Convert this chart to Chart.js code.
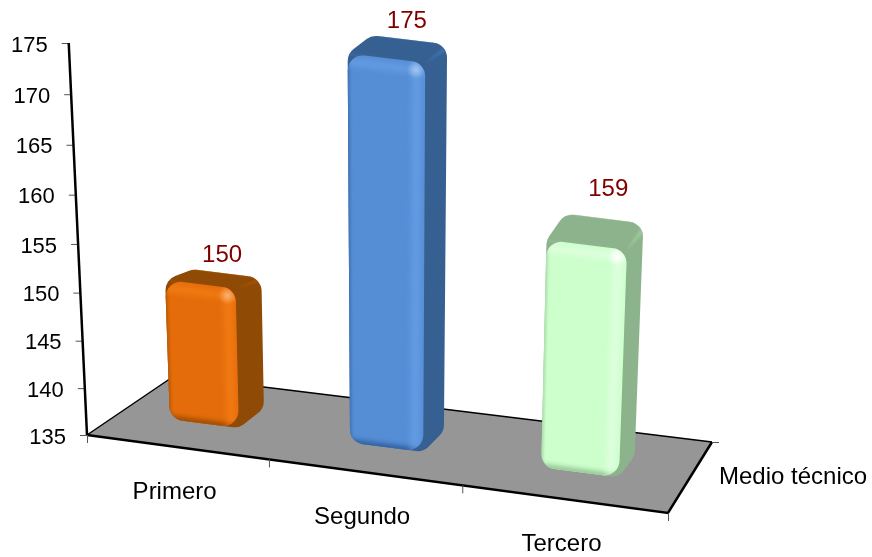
<!DOCTYPE html>
<html lang="es">
<head>
<meta charset="UTF-8">
<title>Medio técnico</title>
<style>
	html, body { margin: 0; padding: 0; background: #fff; }
	canvas { display: block; }
</style>
</head>
<body>
<canvas id="chart" width="872" height="557"></canvas>
<script src="https://cdn.jsdelivr.net/npm/chart.js@4/dist/chart.umd.js"></script>
<script>
const categories = ["Primero", "Segundo", "Tercero"];
const seriesName = "Medio técnico";
const values = [150, 175, 159];
const yMin = 135, yMax = 175, yStep = 5;

const frontColors = ["#E56C0A", "#558ED5", "#CCFFCC"];
const sideColors = ["#8F4A05", "#376092", "#8DB38D"];
const topColors = ["#A85A08", "#3F72B0", "#9CC59C"];
const lightColors = ["#FF8A1E", "#73ABF2", "#F2FFF2"];
const darkColors = ["#9A4A04", "#2F5F9E", "#93C393"];

// floor corners: front left, front right, back right, back left
const floor = [[87, 435], [668, 513], [712, 442], [174, 376]];
const FONT = '"Liberation Sans", Arial, sans-serif';
const BAR_V0 = 0.36, BAR_V1 = 0.68, BAR_SHIFT = -0.006;
const labelNudge = [[2.5, -19], [3, -26], [7, -44]];

const homography = (() => {
	const [p0, p1, p2, p3] = floor;
	const dx1 = p1[0] - p2[0], dx2 = p3[0] - p2[0], sx = p0[0] - p1[0] + p2[0] - p3[0];
	const dy1 = p1[1] - p2[1], dy2 = p3[1] - p2[1], sy = p0[1] - p1[1] + p2[1] - p3[1];
	const det = dx1 * dy2 - dx2 * dy1;
	const g = (sx * dy2 - dx2 * sy) / det, h = (dx1 * sy - sx * dy1) / det;
	const a = p1[0] - p0[0] + g * p1[0], b = p3[0] - p0[0] + h * p3[0];
	const d = p1[1] - p0[1] + g * p1[1], e = p3[1] - p0[1] + h * p3[1];
	return (u, v) => {
		const w = g * u + h * v + 1;
		return [(a * u + b * v + p0[0]) / w, (d * u + e * v + p0[1]) / w];
	};
})();

// pixel height above the floor for a value pixel of the y scale
function lift(scale, pixel) {
	const full = scale.bottom - scale.top;
	const s = (scale.bottom - pixel) / full;
	return full * s / (1.052 - 0.052 * s);
}

// point on the floor raised by a height, verticals lean towards a far vanishing point
function raise(p, height) {
	return [p[0] + (p[0] - 390) / 6500 * height, p[1] - height];
}

function roundedPath(ctx, pts, r) {
	const n = pts.length;
	const mid = (a, b) => [(a[0] + b[0]) / 2, (a[1] + b[1]) / 2];
	const start = mid(pts[n - 1], pts[0]);
	ctx.beginPath();
	ctx.moveTo(start[0], start[1]);
	for (let i = 0; i < n; i++) {
		const a = pts[i], b = pts[(i + 1) % n];
		ctx.arcTo(a[0], a[1], (a[0] + b[0]) / 2, (a[1] + b[1]) / 2, r);
	}
	ctx.closePath();
}

function softLine(ctx, pts, color, width, blur, alpha) {
	ctx.save();
	ctx.filter = "blur(" + blur + "px)";
	ctx.globalAlpha = alpha;
	ctx.strokeStyle = color;
	ctx.lineWidth = width;
	ctx.lineCap = "round";
	ctx.beginPath();
	pts.forEach((p, i) => i ? ctx.lineTo(p[0], p[1]) : ctx.moveTo(p[0], p[1]));
	ctx.stroke();
	ctx.restore();
}

function lerp(a, b, t) {
	return [a[0] + (b[0] - a[0]) * t, a[1] + (b[1] - a[1]) * t];
}

function drawBar(ctx, i, el, xs, ys) {
	const u0 = (el.x - el.width / 2 - xs.left) / xs.width + BAR_SHIFT;
	const u1 = (el.x + el.width / 2 - xs.left) / xs.width + BAR_SHIFT;
	const h = lift(ys, el.y) - 3;
	// the top face flattens towards eye level, less so on the right of the view
	const hBack = h + 8 - 20 * (1 - (u0 + u1) / 2);
	const fbl = homography(u0, BAR_V0), fbr = homography(u1, BAR_V0);
	const bbr = homography(u1, BAR_V1), bbl = homography(u0, BAR_V1);
	const tfl = raise(fbl, h), tfr = raise(fbr, h), tbr = raise(bbr, hBack), tbl = raise(bbl, hBack);

	// whole silhouette, side colour
	const outline = [fbl, fbr, bbr, tbr, tbl, tfl];
	roundedPath(ctx, outline, 15);
	ctx.fillStyle = sideColors[i];
	ctx.fill();

	// top face, clipped by the silhouette and fading into the side
	ctx.save();
	roundedPath(ctx, outline, 15);
	ctx.clip();
	ctx.filter = "blur(1px)";
	ctx.beginPath();
	[tfl, tfr, tbr, tbl].forEach((p, k) => k ? ctx.lineTo(p[0], p[1]) : ctx.moveTo(p[0], p[1]));
	ctx.lineTo(tbl[0] - 10, tbl[1] - 10);
	ctx.lineTo(tbr[0] + 10, tbr[1] - 10);
	ctx.lineTo(tbr[0] + 10, tbr[1]);
	ctx.lineTo(tfr[0], tfr[1]);
	ctx.lineTo(tfl[0] - 10, tfl[1]);
	ctx.closePath();
	ctx.fillStyle = topColors[i];
	ctx.fill();
	ctx.restore();

	// front face with soft bevels
	ctx.save();
	roundedPath(ctx, [fbl, fbr, tfr, tfl], 15);
	ctx.clip();
	ctx.fillStyle = frontColors[i];
	ctx.fillRect(0, 0, 872, 557);
	softLine(ctx, [fbl, tfl], darkColors[i], 3, 1.5, 0.7);
	softLine(ctx, [fbl, fbr], darkColors[i], 7, 2.5, 1);
	softLine(ctx, [lerp(tfl, fbl, 8 / h), lerp(tfr, fbr, 8 / h)], lightColors[i], 7, 3, 0.55);
	softLine(ctx, [lerp(tfr, tfl, 0.11), lerp(fbr, fbl, 0.11)], lightColors[i], 9, 3, 0.5);
	const spot = lerp(lerp(tfr, tfl, 0.12), lerp(fbr, fbl, 0.12), 8 / h);
	const glow = ctx.createRadialGradient(spot[0], spot[1], 0, spot[0], spot[1], 9);
	glow.addColorStop(0, i === 2 ? "#FFFFFF" : "rgba(255,255,255,0.4)");
	glow.addColorStop(1, "rgba(255,255,255,0)");
	ctx.fillStyle = glow;
	ctx.fillRect(spot[0] - 10, spot[1] - 10, 20, 20);
	ctx.restore();

	return raise(homography((u0 + u1) / 2, (BAR_V0 + BAR_V1) / 2), h);
}

const perspectiveBars = {
	id: "perspectiveBars",
	beforeDatasetsDraw(chart) {
		const { ctx, scales: { x: xs, y: ys } } = chart;
		ctx.save();

		// floor
		ctx.beginPath();
		floor.forEach((p, i) => i ? ctx.lineTo(p[0], p[1]) : ctx.moveTo(p[0], p[1]));
		ctx.closePath();
		ctx.fillStyle = "#969696";
		ctx.fill();

		ctx.strokeStyle = "#000";
		ctx.lineWidth = 1.5;
		ctx.beginPath();
		ctx.moveTo(floor[3][0], floor[3][1]);
		ctx.lineTo(floor[0][0], floor[0][1]);
		ctx.moveTo(floor[3][0], floor[3][1]);
		ctx.lineTo(floor[2][0], floor[2][1]);
		ctx.stroke();
		ctx.lineWidth = 2.5;
		ctx.beginPath();
		ctx.moveTo(floor[0][0], floor[0][1]);
		ctx.lineTo(floor[1][0], floor[1][1]);
		ctx.lineTo(floor[2][0], floor[2][1]);
		ctx.stroke();

		// y axis and its labels
		ctx.font = "22px " + FONT;
		ctx.textAlign = "right";
		ctx.textBaseline = "middle";
		ys.ticks.forEach(t => {
			const h = lift(ys, ys.getPixelForValue(t.value));
			const p = raise(floor[0], h);
			ctx.strokeStyle = "#555";
			ctx.lineWidth = 1;
			ctx.beginPath();
			ctx.moveTo(p[0] - 7, p[1] + 0.5);
			ctx.lineTo(p[0], p[1] + 0.5);
			ctx.stroke();
			ctx.fillStyle = "#000";
			ctx.fillText(t.value, p[0] - 21, p[1] + 2.5);
		});
		const axisTop = raise(floor[0], lift(ys, ys.top));
		ctx.strokeStyle = "#000";
		ctx.lineWidth = 2.5;
		ctx.beginPath();
		ctx.moveTo(axisTop[0], axisTop[1]);
		ctx.lineTo(floor[0][0], floor[0][1]);
		ctx.stroke();

		// ticks between categories and below the floor corners
		ctx.strokeStyle = "#555";
		ctx.lineWidth = 1;
		for (let i = 0; i <= categories.length; i++) {
			const p = homography(i / categories.length, 0);
			ctx.beginPath();
			ctx.moveTo(p[0] + 0.5, p[1]);
			ctx.lineTo(p[0] + 0.5, p[1] + 8);
			ctx.stroke();
		}
		ctx.beginPath();
		ctx.moveTo(floor[2][0], floor[2][1] + 0.5);
		ctx.lineTo(floor[2][0] + 7, floor[2][1] + 0.5);
		ctx.stroke();

		// category and series labels
		ctx.font = "24px " + FONT;
		ctx.textAlign = "center";
		ctx.textBaseline = "middle";
		ctx.fillStyle = "#000";
		xs.ticks.forEach((t, i) => {
			const p = homography((xs.getPixelForTick(i) - xs.left) / xs.width, 0);
			ctx.fillText(categories[i], p[0] - 2, p[1] + 45);
		});
		ctx.textAlign = "left";
		ctx.fillText(seriesName, floor[2][0] + 7, (floor[1][1] + floor[2][1]) / 2);
		ctx.restore();
	},
	beforeDatasetDraw(chart, args) {
		const { ctx, scales: { x: xs, y: ys } } = chart;
		const tops = args.meta.data.map((el, i) => drawBar(ctx, i, el, xs, ys));
		ctx.save();
		ctx.font = "24px " + FONT;
		ctx.textAlign = "center";
		ctx.textBaseline = "middle";
		ctx.fillStyle = "#800000";
		tops.forEach((p, i) => ctx.fillText(values[i], p[0] + 6 + labelNudge[i][0], p[1] + labelNudge[i][1]));
		ctx.restore();
		return false;
	}
};

new Chart("chart", {
	type: "bar",
	data: {
		labels: categories,
		datasets: [{
			label: seriesName,
			data: values,
			backgroundColor: frontColors,
			barPercentage: 0.39,
			categoryPercentage: 1
		}]
	},
	options: {
		responsive: false,
		animation: false,
		layout: { padding: { left: 87, right: 204, top: 44, bottom: 121 } },
		plugins: { legend: { display: false }, tooltip: { enabled: false } },
		scales: {
			x: { display: false },
			y: { display: false, min: yMin, max: yMax, ticks: { stepSize: yStep } }
		}
	},
	plugins: [perspectiveBars]
});
</script>
</body>
</html>
